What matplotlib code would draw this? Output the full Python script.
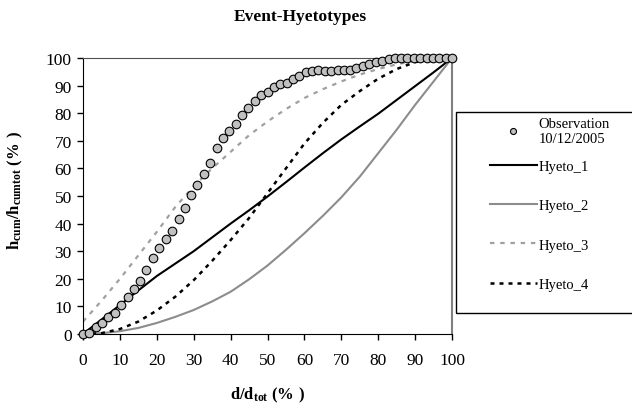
import numpy as np
import matplotlib
matplotlib.use('Agg')
import matplotlib.pyplot as plt
from matplotlib.patches import Rectangle

plt.rcParams['font.family'] = ['Liberation Serif', 'DejaVu Serif']
plt.rcParams['mathtext.fontset'] = 'custom'
plt.rcParams['mathtext.rm'] = 'Liberation Serif'
plt.rcParams['mathtext.bf'] = 'Liberation Serif:bold'

# observation 10/12/2005 (cumulative rainfall, %)
obs_x = [0, 1.7, 3.4, 5.2, 6.9, 8.6, 10.3, 12.1, 13.8, 15.5, 17.2, 19.0, 20.7, 22.4,
         24.1, 25.9, 27.6, 29.3, 31.0, 32.8, 34.5, 36.2, 37.9, 39.7, 41.4, 43.1,
         44.8, 46.6, 48.3, 50.0, 51.7, 53.4, 55.2, 56.9, 58.6, 60.3, 62.1, 63.8,
         65.5, 67.2, 69.0, 70.7, 72.4, 74.1, 75.9, 77.6, 79.3, 81.0, 82.8, 84.5,
         86.2, 87.9, 89.7, 91.4, 93.1, 94.8, 96.6, 98.3, 100]
obs_y = [0, 0.4, 2.4, 4.0, 6.0, 7.7, 10.5, 13.5, 16.3, 19.3, 23.2, 27.4, 31.3, 34.5,
         37.5, 41.7, 45.7, 50.2, 54.0, 57.8, 61.9, 67.3, 70.9, 73.5, 76.1, 79.3,
         81.9, 84.3, 86.7, 87.8, 89.4, 90.5, 90.9, 92.4, 93.3, 94.8, 95.2, 95.5,
         95.4, 95.4, 95.5, 95.6, 95.8, 96.3, 97.0, 97.7, 98.4, 99.0, 99.6, 100,
         100, 100, 100, 100, 100, 100, 100, 100, 100]

# hyetotypes
hx = [0, 5, 10, 15, 20, 25, 30, 35, 40, 45, 50, 55, 60, 65, 70, 75, 80, 85, 90, 95, 100]
hyeto_1 = [0, 5.2, 10.5, 15.8, 21.0, 25.5, 30.0, 35.0, 40.0, 44.8, 49.8, 55.0, 60.3,
           65.5, 70.5, 75.2, 79.8, 84.8, 89.8, 94.8, 100]
hyeto_2 = [0, 0.3, 1.0, 2.2, 4.0, 6.2, 8.7, 11.8, 15.3, 19.8, 24.8, 30.5, 36.5,
           42.8, 49.5, 57.0, 65.5, 74.0, 83.0, 91.5, 100]
hyeto_3 = [4.5, 12.0, 20.0, 28.5, 37.0, 46.0, 53.5, 60.0, 66.0, 72.0, 77.0, 81.5, 85.5,
           88.7, 91.5, 94.0, 96.0, 97.7, 99.0, 99.7, 100]
hyeto_4 = [0, 0.3, 1.8, 4.5, 8.5, 13.5, 19.5, 26.5, 34.0, 42.0, 51.0, 60.0, 69.0,
           76.5, 83.0, 88.0, 92.5, 96.0, 98.5, 99.7, 100]

fig = plt.figure(figsize=(6.32, 4.06), dpi=100)
ax = fig.add_axes([83/632, 1-335/406, 369/632, 276/406])

l1, = ax.plot(hx, hyeto_1, color='black', lw=1.5, label='Hyeto_1')
l2, = ax.plot(hx, hyeto_2, color='#8c8c8c', lw=1.5, label='Hyeto_2')
l3, = ax.plot(hx, hyeto_3, color='#a0a0a0', lw=1.6, dashes=(2, 2.6), label='Hyeto_3')
l4, = ax.plot(hx, hyeto_4, color='black', lw=1.8, dashes=(1.6, 2.0), label='Hyeto_4')
obs, = ax.plot(obs_x, obs_y, 'o', ms=6.2, mfc='#c0c0c0', mec='black', mew=0.8,
               ls='none', label='Observation\n10/12/2005', clip_on=False, zorder=5)

ax.set_xlim(0, 100)
ax.set_ylim(0, 100)
ax.set_xticks(range(0, 101, 10))
ax.set_yticks(range(0, 101, 10))
ax.tick_params(direction='out', length=4, width=1, labelsize=12.5, color='black')
ax.tick_params(axis='x', pad=9)
ax.tick_params(axis='y', pad=4)
ax.spines['top'].set_color('#505050')
ax.spines['right'].set_color('#808080')
ax.spines['right'].set_linewidth(1.5)

fig.text(300/632, 1-17/406, 'Event-Hyetotypes', ha='center', va='center',
         fontsize=12.5, fontweight='bold')
fig.text(268/632, 1-395/406, r'$\mathbf{d/d_{tot}}$ $\mathbf{(\%\ )}$', ha='center',
         va='center', fontsize=12)
fig.text(15/632, 1-190/406, r'$\mathbf{h_{cum}/h_{cumtot}}$ $\mathbf{(\%\ )}$',
         ha='center', va='center', rotation=90, fontsize=12)

# legend box runs past the right edge
fig.add_artist(Rectangle((456/632, 1-314/406), 200/632, 201/406,
                         transform=fig.transFigure, fill=False, ec='black', lw=1))
leg1 = fig.legend(handles=[obs], loc='upper left', bbox_to_anchor=(490/632, 1-118/406),
                  frameon=False, fontsize=10.5, handlelength=3.2, handletextpad=0.15,
                  borderpad=0, borderaxespad=0, markerscale=0.7)
fig.legend(handles=[l1, l2, l3, l4], loc='upper left',
           bbox_to_anchor=(490/632, 1-161/406), frameon=False, fontsize=10.5,
           handlelength=3.2, handletextpad=0.15, borderpad=0, borderaxespad=0,
           labelspacing=1.78)

fig.savefig('out.png', dpi=100)
